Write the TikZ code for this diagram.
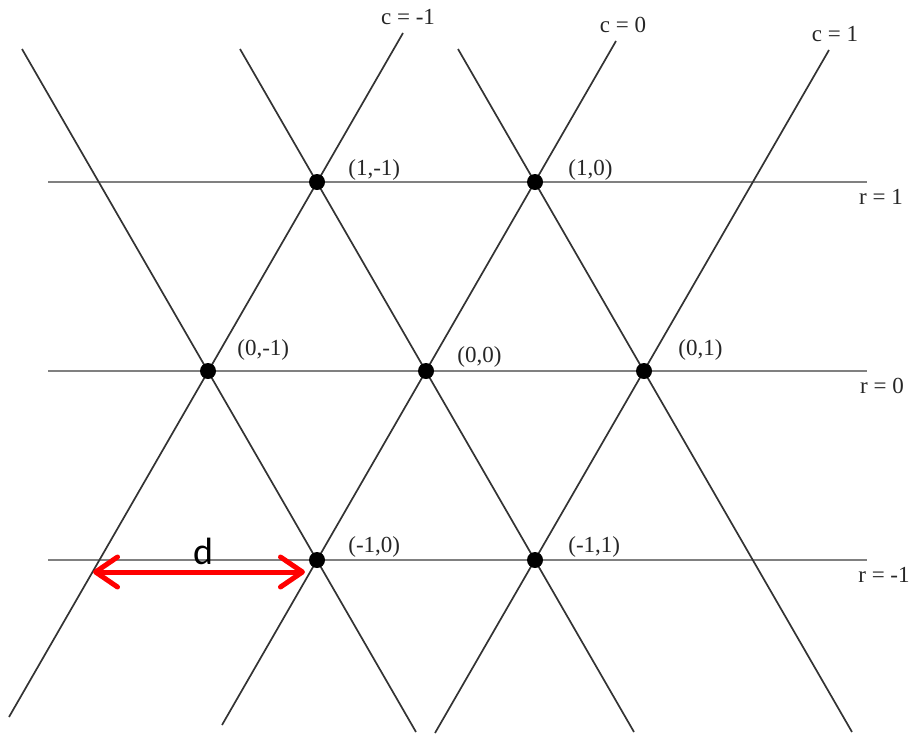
\documentclass[tikz,border=0pt]{standalone}
\usepackage{fontspec}
\setmainfont{Liberation Serif}
\newfontfamily\dfont{Carlito}
\usetikzlibrary{arrows.meta,positioning}

\begin{document}
\begin{tikzpicture}[
  x=1pt, y=-1pt,
  slant/.style={line width=1.7pt, draw=black!80},
  rowline/.style={line width=2pt, draw=black!50},
  dot/.style={circle, fill=black, inner sep=0pt, minimum size=16pt},
  lbl/.style={inner sep=0pt, font=\fontsize{23}{23}\selectfont, text=black!85},
  dist/.style={<->, red, line width=5pt, >={Straight Barb[length=22pt,width=30pt,round]}}
]
\useasboundingbox (0,0) rectangle (912,734);

% ROW LINES
\coordinate (r1a) at (48,182);  \coordinate (r1b) at (867,182);
\coordinate (r0a) at (48,371);  \coordinate (r0b) at (867,371);
\coordinate (rma) at (48,560);  \coordinate (rmb) at (867,560);

\draw[rowline] (r1a) -- (r1b) node[lbl, below, xshift=14pt, yshift=-6pt] {r = 1};
\draw[rowline] (r0a) -- (r0b) node[lbl, below, xshift=15pt, yshift=-6pt] {r = 0};
\draw[rowline] (rma) -- (rmb) node[lbl, below, xshift=17pt, yshift=-6pt] {r = -1};

% FALLING LINES
\coordinate (f1t) at (22,49);   \coordinate (f1b) at (416,732);
\coordinate (f2t) at (240,49);  \coordinate (f2b) at (634,732);
\coordinate (f3t) at (458,49);  \coordinate (f3b) at (852,732);

\draw[slant] (f1t) -- (f1b);
\draw[slant] (f2t) -- (f2b);
\draw[slant] (f3t) -- (f3b);

% RISING LINES (columns)
\coordinate (c1b) at (9,717);   \coordinate (c1t) at (403,33);
\coordinate (c0b) at (222,725); \coordinate (c0t) at (616,41);
\coordinate (cpb) at (435,733); \coordinate (cpt) at (829,50);

\draw[slant] (c1b) -- (c1t) node[lbl, above, xshift=5pt, yshift=7pt] {c = -1};
\draw[slant] (c0b) -- (c0t) node[lbl, above, xshift=7pt, yshift=7pt] {c = 0};
\draw[slant] (cpb) -- (cpt) node[lbl, above, xshift=6pt, yshift=7pt] {c = 1};

% LATTICE POINTS
\node (p1m1) [dot] at (317,182) {};
\node (p10)  [dot] at (535,182) {};
\node (p0m1) [dot] at (208,371) {};
\node (p00)  [dot] at (426,371) {};
\node (p01)  [dot] at (644,371) {};
\node (pm10) [dot] at (317,560) {};
\node (pm11) [dot] at (535,560) {};

\node [lbl, right=23pt of p1m1, yshift=12pt] {(1,-1)};
\node [lbl, right=25pt of p10,  yshift=12pt] {(1,0)};
\node [lbl, right=21pt of p0m1, yshift=21pt] {(0,-1)};
\node [lbl, right=23pt of p00,  yshift=14pt] {(0,0)};
\node [lbl, right=26pt of p01,  yshift=21pt] {(0,1)};
\node [lbl, right=23pt of pm10, yshift=13pt] {(-1,0)};
\node [lbl, right=25pt of pm11, yshift=13pt] {(-1,1)};

% DISTANCE
\coordinate (dl) at (93,572);
\coordinate (dr) at (305,572);
\draw[dist] (dl) -- node[above, inner sep=0pt, yshift=5pt, xshift=4pt, font=\dfont\fontsize{38}{38}\selectfont, text=black] {d} (dr);
\end{tikzpicture}
\end{document}
